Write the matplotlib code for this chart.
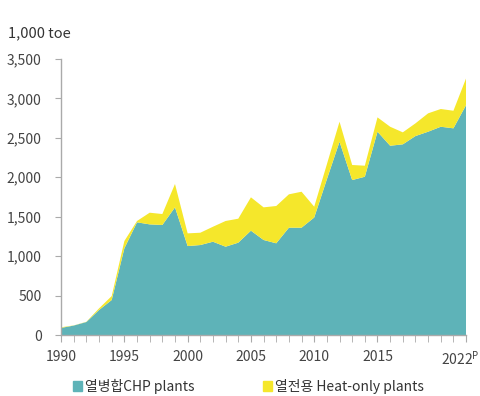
import matplotlib
matplotlib.use('Agg')
import matplotlib.pyplot as plt
import matplotlib.transforms as mtransforms
from matplotlib.patches import Patch

plt.rcParams['font.family'] = ['Noto Sans CJK KR', 'DejaVu Sans']

years = list(range(1990, 2023))
# 열병합 CHP plants (1,000 toe)
chp = [90, 120, 165, 317, 444, 1099, 1429, 1403, 1395, 1619,
       1128, 1141, 1183, 1120, 1171, 1323, 1205, 1163, 1361, 1361,
       1490, 1975, 2451, 1965, 2007, 2578, 2400, 2418, 2523, 2578,
       2641, 2621, 2916]
# 합계 (CHP + 열전용)
total = [98, 122, 168, 338, 494, 1192, 1446, 1551, 1534, 1915,
         1289, 1297, 1373, 1446, 1475, 1746, 1619, 1636, 1784, 1817,
         1627, 2165, 2705, 2156, 2147, 2760, 2641, 2570, 2684, 2811,
         2866, 2844, 3255]
heat_only = [t - c for t, c in zip(total, chp)]

xticks = [1990, 1995, 2000, 2005, 2010, 2015, 2022]
xlabels = ['1990', '1995', '2000', '2005', '2010', '2015', '2022$^\\mathregular{P}$']
yticks = [0, 500, 1000, 1500, 2000, 2500, 3000, 3500]

teal = '#5eb3b8'
yellow = '#f5e72b'
grey = '#aaaaaa'
txt = '#444444'

fig = plt.figure(figsize=(4.81, 3.96), dpi=100)
ax = fig.add_axes([0.127, 0.154, 0.842, 0.697])

ax.stackplot(years, chp, heat_only, colors=[teal, yellow], linewidth=0)

ax.set_xlim(1990, 2022)
ax.set_ylim(0, 3500)
ax.set_yticks(yticks)
ax.set_yticklabels([f'{v:,}' for v in yticks])
ax.set_xticks(xticks)
ax.set_xticklabels(xlabels)
ax.set_xticks(years, minor=True)

for s in ['top', 'right']:
    ax.spines[s].set_visible(False)
for s in ['left', 'bottom']:
    ax.spines[s].set_color(grey)
    ax.spines[s].set_linewidth(1)

ax.tick_params(axis='y', length=4, color=grey, labelcolor=txt, labelsize=10, pad=10)
ax.tick_params(axis='x', which='both', length=5, color=grey, labelcolor=txt, labelsize=10, pad=6)

# keep the last label inside the picture
last = ax.get_xticklabels()[-1]
last.set_transform(last.get_transform() + mtransforms.ScaledTranslation(-4 / 72, 0, fig.dpi_scale_trans))

fig.text(0.017, 0.905, '1,000 toe', fontsize=10.5, color='#333333', va='baseline')

fig.legend(handles=[Patch(color=teal, label='열병합CHP plants')],
           loc='center left', bbox_to_anchor=(0.125, 0.025), frameon=False,
           fontsize=10, handlelength=0.7, handleheight=0.7, handletextpad=0.2,
           labelcolor='#333333')
fig.legend(handles=[Patch(color=yellow, label='열전용 Heat-only plants')],
           loc='center left', bbox_to_anchor=(0.52, 0.025), frameon=False,
           fontsize=10, handlelength=0.7, handleheight=0.7, handletextpad=0.2,
           labelcolor='#333333')

fig.savefig('out.png', dpi=100)
